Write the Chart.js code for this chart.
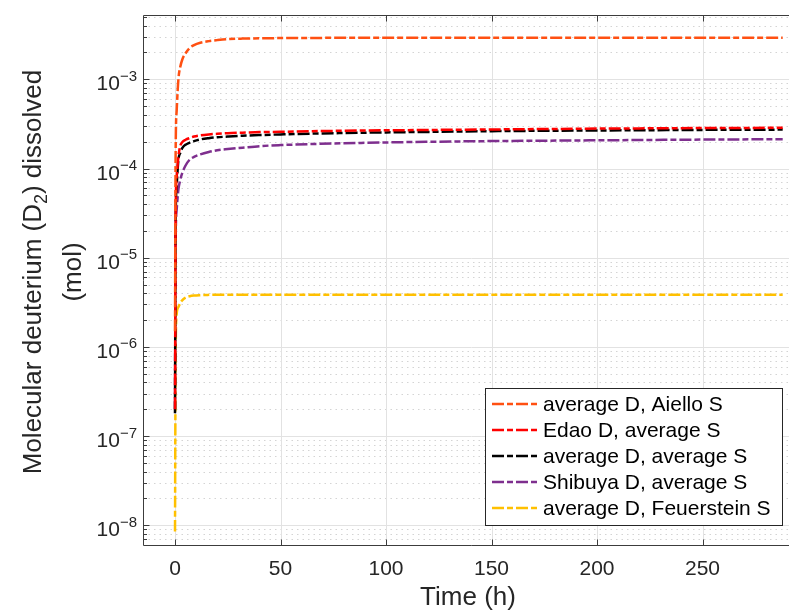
<!DOCTYPE html>
<html>
<head>
<meta charset="utf-8">
<script src="https://cdn.jsdelivr.net/npm/chart.js@4/dist/chart.umd.min.js"></script>
<style>
  html, body { margin: 0; padding: 0; background: #fff; overflow: hidden; }
  #wrap { position: relative; width: 800px; height: 612px; }
</style>
</head>
<body>
<div id="wrap"><canvas id="c"></canvas></div>
<script>
// ---------------- data ----------------
const timeH = [0, 0.3, 0.8, 1.6, 2.5, 3.5, 5, 7, 9, 12, 16, 20, 25, 32, 40, 50, 65, 80, 100, 125, 150, 175, 200, 225, 250, 288];

const aielloAvgD = [1.5e-6, 1.5e-4, 4.5e-4, 1.0e-3, 1.38e-3, 1.68e-3, 1.96e-3, 2.25e-3, 2.42e-3, 2.57e-3, 2.68e-3, 2.75e-3, 2.82e-3, 2.86e-3, 2.88e-3, 2.9e-3, 2.91e-3, 2.92e-3, 2.92e-3, 2.92e-3, 2.92e-3, 2.92e-3, 2.92e-3, 2.92e-3, 2.92e-3, 2.92e-3];
const edaoAvgS   = [2.0e-7, 3.0e-5, 8.0e-5, 1.35e-4, 1.8e-4, 1.98e-4, 2.1e-4, 2.2e-4, 2.28e-4, 2.35e-4, 2.41e-4, 2.45e-4, 2.49e-4, 2.52e-4, 2.56e-4, 2.58e-4, 2.62e-4, 2.65e-4, 2.68e-4, 2.71e-4, 2.74e-4, 2.77e-4, 2.8e-4, 2.82e-4, 2.84e-4, 2.86e-4];
const avgAvg     = [1.8e-7, 2.5e-5, 6.5e-5, 1.25e-4, 1.5e-4, 1.7e-4, 1.85e-4, 1.95e-4, 2.03e-4, 2.12e-4, 2.19e-4, 2.24e-4, 2.28e-4, 2.33e-4, 2.37e-4, 2.41e-4, 2.46e-4, 2.5e-4, 2.54e-4, 2.58e-4, 2.62e-4, 2.65e-4, 2.67e-4, 2.69e-4, 2.71e-4, 2.73e-4];
const shibuyaAvgS= [2.0e-7, 1.5e-5, 3.5e-5, 5.8e-5, 7.5e-5, 9.0e-5, 1.08e-4, 1.26e-4, 1.35e-4, 1.44e-4, 1.53e-4, 1.6e-4, 1.65e-4, 1.71e-4, 1.78e-4, 1.83e-4, 1.88e-4, 1.92e-4, 1.96e-4, 2.0e-4, 2.03e-4, 2.05e-4, 2.07e-4, 2.09e-4, 2.11e-4, 2.13e-4];
const feuerstein = [8.5e-9, 8.0e-7, 2.35e-6, 2.8e-6, 3.1e-6, 3.35e-6, 3.57e-6, 3.7e-6, 3.76e-6, 3.8e-6, 3.83e-6, 3.85e-6, 3.85e-6, 3.85e-6, 3.85e-6, 3.85e-6, 3.85e-6, 3.85e-6, 3.85e-6, 3.85e-6, 3.85e-6, 3.85e-6, 3.85e-6, 3.85e-6, 3.85e-6, 3.85e-6];

const seriesNames = ['average D, Aiello S', 'Edao D, average S', 'average D, average S', 'Shibuya D, average S', 'average D, Feuerstein S'];
const seriesColors = ['rgb(255,80,18)', 'rgb(255,0,0)', 'rgb(0,0,0)', 'rgb(126,47,142)', 'rgb(255,192,0)'];

const xTickValues = [0, 50, 100, 150, 200, 250];
const yDecadeExponents = [-8, -7, -6, -5, -4, -3];
const yTickExpLabels = ['\u22128', '\u22127', '\u22126', '\u22125', '\u22124', '\u22123'];

const xTitle = 'Time (h)';
const yTitleLine1 = ['Molecular deuterium (D', '2', ') dissolved'];
const yTitleLine2 = '(mol)';

// ---------------- chart ----------------
const FONT = '"Liberation Sans", Arial, Helvetica, sans-serif';
const AXIS = 'rgb(60,60,60)';
const TXT = 'rgb(38,38,38)';
const DASH = [12, 3, 6, 3];

const allSeries = [aielloAvgD, edaoAvgS, avgAvg, shibuyaAvgS, feuerstein];
const datasets = allSeries.map((vals, i) => ({
  label: seriesNames[i],
  data: timeH.map((t, j) => ({ x: t, y: vals[j] })),
  borderColor: seriesColors[i],
  backgroundColor: seriesColors[i],
  borderWidth: 2.5,
  borderDash: DASH,
  pointRadius: 0,
  fill: false,
  cubicInterpolationMode: 'monotone'
}));

function seg(ctx, x1, y1, x2, y2) {
  ctx.beginPath(); ctx.moveTo(x1, y1); ctx.lineTo(x2, y2); ctx.stroke();
}

const deco = {
  id: 'deco',
  beforeDatasetsDraw(chart) {
    const { ctx, chartArea: a, scales: { x, y } } = chart;
    ctx.save();
    ctx.lineWidth = 1;
    // minor y grid (dotted)
    ctx.strokeStyle = 'rgb(212,212,212)';
    ctx.setLineDash([1.5, 4]);
    for (let k = -9; k <= -2; k++) {
      for (let m = 2; m <= 9; m++) {
        const v = m * Math.pow(10, k);
        if (v < y.min || v > y.max) continue;
        const py = Math.round(y.getPixelForValue(v)) + 0.5;
        seg(ctx, a.left, py, a.right, py);
      }
    }
    ctx.setLineDash([]);
    ctx.strokeStyle = 'rgb(226,226,226)';
    yDecadeExponents.forEach(e => {
      const py = Math.round(y.getPixelForValue(Math.pow(10, e))) + 0.5;
      seg(ctx, a.left, py, a.right, py);
    });
    xTickValues.forEach(v => {
      const px = Math.round(x.getPixelForValue(v)) + 0.5;
      seg(ctx, px, a.top, px, a.bottom);
    });
    ctx.restore();
  },
  afterDatasetsDraw(chart) {
    const { ctx, chartArea: a, scales: { x, y } } = chart;
    ctx.save();
    ctx.lineWidth = 1;
    ctx.strokeStyle = AXIS;
    const L = Math.round(a.left) + 0.5, B = Math.round(a.bottom) + 0.5, T = Math.round(a.top) + 0.5;
    // axes box
    seg(ctx, L, T, a.right, T);
    seg(ctx, L, T, L, B);
    seg(ctx, L, B, a.right, B);
    // y ticks (inward)
    for (let k = -9; k <= -2; k++) {
      for (let m = 1; m <= 9; m++) {
        const v = m * Math.pow(10, k);
        if (v < y.min || v > y.max) continue;
        const py = Math.round(y.getPixelForValue(v)) + 0.5;
        seg(ctx, L, py, L + (m === 1 ? 6 : 3.5), py);
      }
    }
    // x ticks (inward, bottom and top)
    xTickValues.forEach(v => {
      const px = Math.round(x.getPixelForValue(v)) + 0.5;
      seg(ctx, px, B, px, B - 6);
      seg(ctx, px, T, px, T + 6);
    });
    // tick labels
    ctx.fillStyle = TXT;
    ctx.textBaseline = 'alphabetic';
    ctx.font = '21px ' + FONT;
    ctx.textAlign = 'center';
    xTickValues.forEach(v => {
      ctx.fillText(String(v), x.getPixelForValue(v), 575);
    });
    yDecadeExponents.forEach((e, i) => {
      const py = y.getPixelForValue(Math.pow(10, e));
      ctx.font = '15px ' + FONT;
      const ew = ctx.measureText(yTickExpLabels[i]).width;
      const right = 137;
      ctx.textAlign = 'left';
      ctx.fillText(yTickExpLabels[i], right - ew, py + 1.5);
      ctx.font = '21px ' + FONT;
      ctx.textAlign = 'right';
      ctx.fillText('10', right - ew, py + 11);
    });
    // x title
    ctx.font = '26px ' + FONT;
    ctx.textAlign = 'center';
    ctx.fillText(xTitle, 468, 605);
    // y title (rotated, two lines)
    ctx.save();
    ctx.translate(41, 272);
    ctx.rotate(-Math.PI / 2);
    ctx.textAlign = 'left';
    ctx.font = '26px ' + FONT;
    const w0 = ctx.measureText(yTitleLine1[0]).width;
    const w2 = ctx.measureText(yTitleLine1[2]).width;
    ctx.font = '18px ' + FONT;
    const w1 = ctx.measureText(yTitleLine1[1]).width;
    let sx = -(w0 + w1 + w2) / 2;
    ctx.font = '26px ' + FONT;
    ctx.fillText(yTitleLine1[0], sx, 0);
    ctx.font = '18px ' + FONT;
    ctx.fillText(yTitleLine1[1], sx + w0, 6);
    ctx.font = '26px ' + FONT;
    ctx.fillText(yTitleLine1[2], sx + w0 + w1, 0);
    ctx.restore();
    ctx.save();
    ctx.translate(81, 272);
    ctx.rotate(-Math.PI / 2);
    ctx.textAlign = 'center';
    ctx.font = '26px ' + FONT;
    ctx.fillText(yTitleLine2, 0, 0);
    ctx.restore();
    // legend
    const lx = 485.5, ly = 388.5, lw = 297, lh = 137;
    ctx.fillStyle = '#fff';
    ctx.fillRect(lx, ly, lw, lh);
    ctx.strokeStyle = 'rgb(38,38,38)';
    ctx.strokeRect(lx, ly, lw, lh);
    chart.data.datasets.forEach((ds, i) => {
      const cy = 404 + i * 26;
      ctx.strokeStyle = ds.borderColor;
      ctx.lineWidth = 2.5;
      ctx.setLineDash(DASH);
      seg(ctx, 492, cy, 537, cy);
      ctx.setLineDash([]);
      ctx.fillStyle = '#000';
      ctx.font = '21px ' + FONT;
      ctx.textAlign = 'left';
      ctx.textBaseline = 'middle';
      ctx.fillText(ds.label, 543, cy + 1);
    });
    ctx.restore();
  }
};

new Chart(document.getElementById('c'), {
  type: 'line',
  data: { datasets },
  options: {
    responsive: true,
    maintainAspectRatio: false,
    animation: false,
    events: [],
    layout: { padding: { top: 15, left: 0, right: 0, bottom: 0 } },
    plugins: { legend: { display: false }, tooltip: { enabled: false }, title: { display: false } },
    scales: {
      x: {
        type: 'linear',
        min: -15.17,
        max: 296.2,
        grid: { display: false },
        border: { display: false },
        ticks: { display: false },
        afterFit(s) { s.height = 67; }
      },
      y: {
        type: 'logarithmic',
        min: 6.01e-9,
        max: 5.26e-3,
        grid: { display: false },
        border: { display: false },
        ticks: { display: false },
        afterFit(s) { s.width = 143; }
      }
    }
  },
  plugins: [deco]
});
</script>
</body>
</html>
